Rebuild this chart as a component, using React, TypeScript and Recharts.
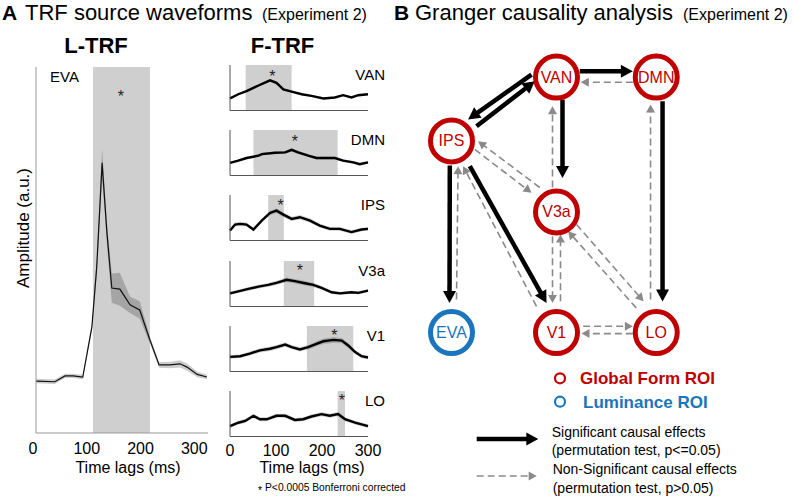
import React from 'react';
import {
  ComposedChart, Line, Area, XAxis, YAxis, ReferenceArea, ReferenceDot,
  ScatterChart, Scatter, ReferenceLine,
} from 'recharts';

const FONT = '"Liberation Sans", Arial, Helvetica, sans-serif';
const RED = '#c00000';
const BLUE = '#1b75bc';
const SHADE = '#cfcfcf';

// ---------------- Panel A : L-TRF (EVA) ----------------
const lTimes = [0, 35, 54, 69, 87, 104, 113, 123, 132, 141, 156, 175, 193, 212, 229, 249, 268, 281, 300, 318];
const lAmp = [14.2, 14.0, 15.6, 15.6, 15.3, 29.0, 45.4, 73.8, 54.6, 39.6, 39.3, 35.0, 33.6, 25.4, 18.6, 18.6, 18.9, 18.0, 16.0, 15.3];
const lErr = [0.6, 0.6, 0.6, 0.6, 0.6, 1.0, 2.0, 4.0, 3.0, 4.0, 4.5, 2.2, 2.4, 1.0, 0.8, 0.9, 1.0, 1.0, 0.8, 0.6];
const lSig = [106, 212];
const lStar = [158, 93];
const timeTicks = [0, 100, 200, 300];
const innerTicks = [100, 200];

// ---------------- Panel A : F-TRF ----------------
const regionNames = ['VAN', 'DMN', 'IPS', 'V3a', 'V1', 'LO'];

const vanTimes = [0, 18, 36, 62, 87, 101, 116, 134, 156, 177, 203, 228, 246, 264, 279, 300];
const vanAmp = [2.65, 3.57, 4.28, 5.5, 6.64, 6.08, 4.64, 4.15, 3.57, 3.21, 2.65, 2.87, 3.36, 2.87, 3.36, 3.57];
const vanErr = [0.2, 0.2, 0.2, 0.25, 0.3, 0.3, 0.25, 0.2, 0.2, 0.2, 0.2, 0.2, 0.25, 0.2, 0.2, 0.2];
const vanSig = [34, 134];
const vanStar = [92, 8.2];

const dmnTimes = [0, 18, 36, 62, 69, 98, 120, 134, 148, 170, 188, 203, 228, 246, 268, 282, 300];
const dmnAmp = [2.76, 3.26, 3.84, 4.35, 4.71, 5.0, 5.07, 5.65, 5.07, 4.35, 3.84, 3.84, 3.84, 3.26, 2.9, 2.48, 2.9];
const dmnErr = [0.25, 0.25, 0.3, 0.3, 0.3, 0.3, 0.3, 0.35, 0.35, 0.3, 0.3, 0.3, 0.3, 0.3, 0.3, 0.3, 0.3];
const dmnSig = [51, 234];
const dmnStar = [141, 8.3];

const ipsTimes = [0, 11, 22, 36, 51, 69, 87, 101, 116, 134, 152, 174, 195, 217, 239, 264, 286, 300];
const ipsAmp = [2.19, 3.5, 3.65, 3.5, 2.41, 4.38, 6.06, 6.56, 5.69, 4.75, 5.12, 4.38, 3.28, 2.55, 2.55, 1.84, 2.41, 2.55];
const ipsErr = [0.4, 0.45, 0.45, 0.45, 0.4, 0.45, 0.5, 0.5, 0.5, 0.45, 0.5, 0.5, 0.45, 0.4, 0.4, 0.4, 0.4, 0.4];
const ipsSig = [83, 117];
const ipsStar = [110, 8.4];

const v3aTimes = [0, 18, 40, 62, 83, 101, 123, 141, 163, 181, 199, 221, 239, 264, 279, 300];
const v3aAmp = [2.89, 3.33, 3.86, 4.37, 4.75, 5.2, 5.87, 5.57, 5.1, 4.75, 4.09, 3.12, 2.89, 3.12, 3.0, 3.49];
const v3aErr = [0.35, 0.35, 0.4, 0.4, 0.4, 0.45, 0.5, 0.5, 0.5, 0.45, 0.4, 0.4, 0.35, 0.35, 0.35, 0.35];
const v3aSig = [117, 183];
const v3aStar = [152, 8.7];

const v1Times = [0, 22, 43, 65, 87, 101, 120, 134, 152, 170, 188, 203, 225, 243, 257, 272, 286, 300];
const v1Amp = [3.21, 3.36, 3.94, 4.65, 5.0, 5.35, 5.93, 5.35, 4.86, 5.35, 6.08, 6.64, 6.94, 6.79, 5.72, 4.28, 3.36, 3.08];
const v1Err = [0.4, 0.4, 0.45, 0.45, 0.5, 0.5, 0.5, 0.45, 0.45, 0.5, 0.55, 0.6, 0.65, 0.6, 0.55, 0.5, 0.45, 0.4];
const v1Sig = [167, 268];
const v1Star = [227, 8.6];

const loTimes = [0, 18, 33, 51, 65, 80, 101, 120, 141, 159, 177, 199, 217, 235, 250, 272, 286, 300];
const loAmp = [2.27, 3.03, 3.41, 4.55, 3.79, 3.79, 4.55, 4.55, 3.64, 3.79, 4.39, 4.92, 4.55, 4.92, 3.79, 3.03, 2.65, 2.27];
const loErr = [0.4, 0.4, 0.45, 0.45, 0.45, 0.45, 0.45, 0.45, 0.45, 0.45, 0.45, 0.45, 0.45, 0.45, 0.45, 0.4, 0.4, 0.4];
const loSig = [234, 250];
const loStar = [243, 8.7];

const fSeries = [
  { times: vanTimes, amp: vanAmp, err: vanErr, sig: vanSig, star: vanStar },
  { times: dmnTimes, amp: dmnAmp, err: dmnErr, sig: dmnSig, star: dmnStar },
  { times: ipsTimes, amp: ipsAmp, err: ipsErr, sig: ipsSig, star: ipsStar },
  { times: v3aTimes, amp: v3aAmp, err: v3aErr, sig: v3aSig, star: v3aStar },
  { times: v1Times, amp: v1Amp, err: v1Err, sig: v1Sig, star: v1Star },
  { times: loTimes, amp: loAmp, err: loErr, sig: loSig, star: loStar },
];

// ---------------- Panel B : Granger network ----------------
const nodeNames = ['VAN', 'DMN', 'IPS', 'V3a', 'EVA', 'V1', 'LO'];
const nodeCol = [1, 1.95, 0, 1, 0, 1, 1.95];
const nodeRow = [0, 0, 0.25, 0.528, 1, 1, 1];
const nodeKind = ['form', 'form', 'form', 'form', 'luminance', 'form', 'form'];

const edgeFrom = ['VAN', 'IPS', 'VAN', 'DMN', 'VAN', 'V3a', 'DMN', 'LO', 'IPS', 'EVA', 'IPS', 'V1', 'IPS', 'V3a', 'V3a', 'V1', 'V3a', 'LO', 'V1', 'LO'];
const edgeTo = ['IPS', 'VAN', 'DMN', 'VAN', 'V3a', 'VAN', 'LO', 'DMN', 'EVA', 'IPS', 'V1', 'IPS', 'V3a', 'IPS', 'V1', 'V3a', 'LO', 'V3a', 'LO', 'V1'];
const edgeSignificant = [1, 1, 1, 0, 1, 0, 1, 0, 1, 0, 1, 0, 0, 0, 0, 0, 0, 0, 0, 0];

// drawing style: pixel offsets of each arrow's start / tip from node centres
const edgeOffsets = [
  [-25, -2.5, 16.6, -21.5],
  [25, -14.8, -21.7, 4.2],
  [23.3, -5.8, -23.4, -5.8],
  [-23.4, 5.2, 24.3, 5.2],
  [6, 22.5, 6, -34],
  [-4, -24.5, -4, 29.2],
  [6.3, 24.2, 6.3, -31],
  [-5.7, -33, -5.7, 27.5],
  [-1.7, 24.5, -2, -29.7],
  [5, -33, 6.6, 25.2],
  [18.3, 25.2, -10, -29.7],
  [-20, -26.3, 11.6, 25.2],
  [23.3, 8.5, -25, -19.2],
  [-16.7, -24.5, 26.6, 0.2],
  [-4, 24.2, -4, -29.7],
  [4, -31.3, 4, 22.5],
  [20, 12.5, -12.7, -31.3],
  [-20, -24.7, 11.6, 19.2],
  [26.6, -6.3, -23.4, -6.3],
  [-23.4, 1, 25, 1],
];

const nodes = nodeNames.map((name, i) => ({ name, x: nodeCol[i], y: nodeRow[i], kind: nodeKind[i] }));
const nodeIndex = (n: string) => nodeNames.indexOf(n);

const lData = lTimes.map((t, i) => ({ t, amp: lAmp[i], band: [lAmp[i] - lErr[i], lAmp[i] + lErr[i]] }));

const StarShape = (p: any) => (
  <text x={p.cx} y={p.cy + 9} textAnchor="middle" fontSize={16} fontFamily={FONT} fill="#222">*</text>
);

const NodeShape = (props: any) => {
  const { cx, cy, payload } = props;
  const color = payload.kind === 'luminance' ? BLUE : RED;
  return (
    <g>
      <circle cx={cx} cy={cy} r={21} fill="#fff" stroke={color} strokeWidth={5} />
      <text x={cx} y={cy + 5.5} textAnchor="middle" fontSize={16} fill={color} fontFamily={FONT}>{payload.name}</text>
    </g>
  );
};

const arrowGeom = (ax: number, ay: number, bx: number, by: number, sig: boolean) => {
  const dx = bx - ax;
  const dy = by - ay;
  const len = Math.hypot(dx, dy) || 1;
  const ux = dx / len;
  const uy = dy / len;
  const L = sig ? 12 : 8;
  const W = sig ? 6.5 : 4.5;
  const baseX = bx - ux * L;
  const baseY = by - uy * L;
  const nx = -uy;
  const ny = ux;
  const color = sig ? '#000' : '#8a8a8a';
  return (
    <g>
      <line x1={ax} y1={ay} x2={baseX + ux} y2={baseY + uy} stroke={color} strokeWidth={sig ? 4.5 : 1.6}
        strokeDasharray={sig ? undefined : '7 4'} />
      <polygon points={`${bx},${by} ${baseX + nx * W},${baseY + ny * W} ${baseX - nx * W},${baseY - ny * W}`} fill={color} />
    </g>
  );
};

const makeEdgeShape = (sig: boolean, off: number[]) => (p: any) =>
  arrowGeom(p.x1 + off[0], p.y1 + off[1], p.x2 + off[2], p.y2 + off[3], sig);

const FPanel = ({ idx }: { idx: number }) => {
  const s = fSeries[idx];
  const isLast = idx === fSeries.length - 1;
  const top = 65 + idx * 65.2;
  const data = s.times.map((t, i) => ({ t, amp: s.amp[i], band: [s.amp[i] - s.err[i], s.amp[i] + s.err[i]] }));
  const xH = isLast ? 30 : 0;
  return (
    <div style={{ position: 'absolute', left: 200, top: top - 10 }}>
      <ComposedChart width={200} height={10 + 45.5 + (isLast ? xH : 2)} data={data}
        margin={{ top: 10, right: 32, left: 0, bottom: isLast ? 0 : 2 }}>
        {isLast ? (
          <XAxis dataKey="t" type="number" domain={[0, 300]} ticks={timeTicks} tickLine={false} tickSize={0}
            tickMargin={8} height={xH} axisLine={{ stroke: '#555' }} interval={0}
            tick={{ fontSize: 16, fill: '#000', fontFamily: FONT }} />
        ) : (
          <XAxis dataKey="t" type="number" domain={[0, 300]} ticks={innerTicks} mirror tick={false}
            tickSize={3} tickLine={{ stroke: '#555' }} axisLine={{ stroke: '#555' }} />
        )}
        <YAxis type="number" domain={[0, 10]} width={30} tick={false} tickLine={false} axisLine={{ stroke: '#555' }} />
        <ReferenceArea x1={s.sig[0]} x2={s.sig[1]} fill={SHADE} fillOpacity={1} stroke="none" />
        <Area dataKey="band" stroke="none" fill="#000" fillOpacity={0.18} isAnimationActive={false} />
        <Line dataKey="amp" stroke="#000" strokeWidth={2.4} dot={false} isAnimationActive={false} />
        <ReferenceDot x={s.star[0]} y={s.star[1]} r={0} shape={StarShape} />
      </ComposedChart>
    </div>
  );
};

export default function App() {
  return (
    <div style={{ position: 'absolute', left: 0, top: 0, width: 794, height: 498, background: '#fff', overflow: 'hidden', fontFamily: FONT }}>
      {/* L-TRF */}
      <div style={{ position: 'absolute', left: 0, top: 57 }}>
        <ComposedChart width={220} height={406} data={lData} margin={{ top: 10, right: 12, left: 6, bottom: 0 }}>
          <XAxis dataKey="t" type="number" domain={[0, 320]} ticks={timeTicks} tickLine={false} tickSize={0}
            tickMargin={10} height={30} axisLine={{ stroke: '#999' }} interval={0}
            tick={{ fontSize: 16, fill: '#000', fontFamily: FONT, dx: -3 }} />
          <YAxis type="number" domain={[0, 100]} width={30} tick={false} tickLine={false} axisLine={{ stroke: '#999' }} />
          <ReferenceArea x1={lSig[0]} x2={lSig[1]} fill={SHADE} fillOpacity={1} stroke="none" />
          <Area dataKey="band" stroke="none" fill="#000" fillOpacity={0.2} isAnimationActive={false} />
          <Line dataKey="amp" stroke="#111" strokeWidth={1.2} dot={false} isAnimationActive={false} />
          <ReferenceDot x={lStar[0]} y={lStar[1]} r={0} shape={StarShape} />
        </ComposedChart>
      </div>

      {fSeries.map((_, i) => <FPanel key={i} idx={i} />)}

      {/* Granger network */}
      <div style={{ position: 'absolute', left: 399.2, top: 26.4 }}>
        <ScatterChart width={315} height={357.7} margin={{ top: 0, right: 0, bottom: 0, left: 0 }}>
          <XAxis dataKey="x" type="number" domain={[-0.5, 2.5]} hide />
          <YAxis dataKey="y" type="number" domain={[-0.2, 1.2]} reversed hide />
          {edgeFrom.map((f, i) => {
            const a = nodes[nodeIndex(f)];
            const b = nodes[nodeIndex(edgeTo[i])];
            return (
              <ReferenceLine key={i} segment={[{ x: a.x, y: a.y }, { x: b.x, y: b.y }]} ifOverflow="visible"
                shape={makeEdgeShape(edgeSignificant[i] === 1, edgeOffsets[i])} />
            );
          })}
          <Scatter data={nodes} shape={NodeShape} isAnimationActive={false} />
        </ScatterChart>
      </div>

      {/* texts and legend */}
      <svg width={794} height={498} style={{ position: 'absolute', left: 0, top: 0, pointerEvents: 'none' }} fontFamily={FONT}>
        <text x={2} y={20} fontSize={21} fontWeight="bold">A</text>
        <text x={25} y={20} fontSize={22}>TRF source waveforms</text>
        <text x={262} y={20} fontSize={16}>(Experiment 2)</text>
        <text x={394} y={20} fontSize={21} fontWeight="bold">B</text>
        <text x={415} y={20} fontSize={22}>Granger causality analysis</text>
        <text x={683} y={20} fontSize={16}>(Experiment 2)</text>

        <text x={96} y={53} fontSize={22} fontWeight="bold" textAnchor="middle">L-TRF</text>
        <text x={282.5} y={53} fontSize={22} fontWeight="bold" textAnchor="middle">F-TRF</text>
        <text x={50} y={82} fontSize={15}>EVA</text>
        {regionNames.map((n, i) => (
          <text key={n} x={385} y={65 + i * 65.2 + 15} fontSize={15} textAnchor="end">{n}</text>
        ))}
        <text transform="translate(29,228) rotate(-90)" fontSize={17} textAnchor="middle">Amplitude (a.u.)</text>
        <text x={128} y={473} fontSize={16} textAnchor="middle">Time lags (ms)</text>
        <text x={312} y={473} fontSize={16} textAnchor="middle">Time lags (ms)</text>
        <text x={258} y={494} fontSize={10.5}>*</text>
        <text x={265} y={491} fontSize={10.3}>P&lt;0.0005 Bonferroni corrected</text>

        <circle cx={560} cy={378.3} r={5} fill="none" stroke={RED} strokeWidth={2.2} />
        <text x={580} y={384} fontSize={17} fontWeight="bold" fill={RED}>Global Form ROI</text>
        <circle cx={560} cy={401.7} r={5} fill="none" stroke={BLUE} strokeWidth={2.2} />
        <text x={583} y={407.5} fontSize={17} fontWeight="bold" fill={BLUE}>Luminance ROI</text>

        {arrowGeom(476.7, 439, 538.3, 439, true)}
        <text x={551.7} y={436.5} fontSize={14}>Significant causal effects</text>
        <text x={551.7} y={455} fontSize={14}>(permutation test, p&lt;=0.05)</text>
        {arrowGeom(476.7, 476, 536.7, 476, false)}
        <text x={552.7} y={474} fontSize={14}>Non-Significant causal effects</text>
        <text x={552.7} y={492.5} fontSize={14}>(permutation test, p&gt;0.05)</text>
      </svg>
    </div>
  );
}
